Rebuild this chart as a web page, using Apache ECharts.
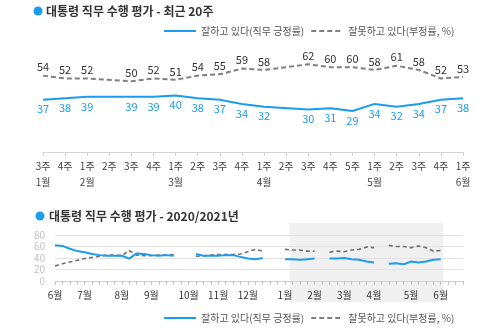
<!DOCTYPE html>
<html><head><meta charset="utf-8">
<script src="https://cdn.jsdelivr.net/npm/echarts@6/dist/echarts.min.js"></script>
<style>html,body{margin:0;padding:0;background:#fff}#c{width:500px;height:333px}</style>
</head><body><div id="c"></div>
<script>
// ---- recent 20 weeks ----
const recentWeeks = ['3주','4주','1주','2주','3주','4주','1주','2주','3주','4주','1주','2주','3주','4주','5주','1주','2주','3주','4주','1주'];
const recentMonths = ['1월','','2월','','','','3월','','','','4월','','','','','5월','','','','6월'];
const recentPositive = [37,38,39,null,39,39,40,38,37,34,32,null,30,31,29,34,32,34,37,38];
const recentNegative = [54,52,52,null,50,52,51,54,55,59,58,null,62,60,60,58,61,58,52,53];

// ---- 2020/2021 weekly history ----
const histSlots = 56;
const histMonthLabels = ['6월','7월','8월','9월','10월','11월','12월','1월','2월','3월','4월','5월','6월'];
const histMonthStart = [0,4,9,13,18,22,26,31,35,39,43,48,52];
const histPositive = [62,61,56,52,50,47,45,44,44,44,39,48,47,45,44,45,44,null,null,
  47,44,44,44,45,45,42,39,38,40,null,null,
  38,38,37,38,39,null,39,39,40,38,37,34,32,null,30,31,29,34,32,34,37,38];
const histNegative = [26,30,33,36,39,41,43,45,45,44,53,45,44,44,45,45,46,null,null,
  43,44,45,46,46,46,47,51,55,52,null,null,
  55,54,54,52,52,null,50,52,51,54,55,59,58,null,62,60,60,58,61,58,52,53];
const histYTicks = [0,20,40,60,80];
const shadeFrom = 31, shadeTo = 52;

const seriesNames = ['잘하고 있다(직무 긍정률)', '잘못하고 있다(부정률, %)'];
const BLUE = '#1a9cf0', GRAY = '#808080';
const FONT = '"Noto Sans CJK KR", "Noto Sans", sans-serif';

const recentCats = recentWeeks.map((w, i) => i + ':' + w);
const histCats = [];
for (let i = 0; i < histSlots; i++) {
  const k = histMonthStart.indexOf(i);
  histCats.push(i + ':' + (k >= 0 ? histMonthLabels[k] : ''));
}

const legendCommon = {left: 163, itemWidth: 32, itemHeight: 12, itemGap: 6, padding: 0,
  data: seriesNames, itemStyle: {opacity: 0},
  textStyle: {fontSize: 10, color: '#555', fontFamily: FONT}};

const chart = echarts.init(document.getElementById('c'), null, {renderer: 'canvas'});
const option = {
  animation: false,
  textStyle: {fontFamily: FONT},
  title: [
    {text: '대통령 직무 수행 평가 - 최근 20주', left: 46, top: 5, padding: 0,
     textStyle: {fontSize: 12, fontWeight: 'bold', color: '#333', fontFamily: FONT}},
    {text: '대통령 직무 수행 평가 - 2020/2021년', left: 49, top: 210, padding: 0,
     textStyle: {fontSize: 12, fontWeight: 'bold', color: '#333', fontFamily: FONT}}
  ],
  legend: [
    Object.assign({top: 26}, legendCommon),
    Object.assign({top: 313}, legendCommon)
  ],
  grid: [
    {left: 43, right: 37, top: 53, height: 99},
    {left: 55, right: 37, top: 235, height: 46}
  ],
  xAxis: [
    {type: 'category', gridIndex: 0, data: recentCats, boundaryGap: false,
     axisLine: {lineStyle: {color: '#d5d5d5'}},
     axisTick: {show: true, interval: 0, length: 4, lineStyle: {color: '#cfcfcf'}},
     axisLabel: {interval: 0, margin: 7,
       formatter: (v, i) => '{w|' + recentWeeks[i] + '}' + (recentMonths[i] ? '\n{m|' + recentMonths[i] + '}' : ''),
       rich: {w: {fontSize: 10, color: '#444', lineHeight: 14, fontFamily: FONT},
              m: {fontSize: 10, color: '#444', lineHeight: 18, fontFamily: FONT}}}},
    {type: 'category', gridIndex: 1, data: histCats, boundaryGap: false,
     axisLine: {lineStyle: {color: '#cfcfcf'}},
     axisTick: {show: true, interval: 0, length: 4, lineStyle: {color: '#c4c4c4'}},
     axisLabel: {interval: 0, margin: 9, fontSize: 10, color: '#333', fontFamily: FONT,
       formatter: v => v.split(':')[1]}}
  ],
  yAxis: [
    {type: 'value', gridIndex: 0, min: 0, max: 70, show: false},
    {type: 'value', gridIndex: 1, min: 0, max: 80, interval: 20,
     axisLine: {show: false}, axisTick: {show: false},
     axisLabel: {fontSize: 10, color: '#c4c4c4', margin: 10, fontFamily: FONT,
       formatter: v => histYTicks.indexOf(v) >= 0 ? String(v) : ''},
     splitLine: {lineStyle: {color: '#e2e2e2', width: 1}}}
  ],
  series: [
    {name: seriesNames[0], type: 'line', xAxisIndex: 0, yAxisIndex: 0, data: recentPositive,
     connectNulls: true, symbol: 'circle', symbolSize: 2, showSymbol: true,
     lineStyle: {color: BLUE, width: 2}, itemStyle: {color: 'rgba(0,0,0,0)'},
     label: {show: true, position: 'bottom', distance: 3, fontSize: 11, color: BLUE, opacity: 1, fontFamily: FONT}},
    {name: seriesNames[1], type: 'line', xAxisIndex: 0, yAxisIndex: 0, data: recentNegative,
     connectNulls: true, symbol: 'circle', symbolSize: 2, showSymbol: true,
     lineStyle: {color: GRAY, width: 2, type: [5, 3]}, itemStyle: {color: 'rgba(0,0,0,0)'},
     label: {show: true, position: 'top', distance: 2, fontSize: 11, color: '#333', opacity: 1, fontFamily: FONT}},
    {name: seriesNames[0], type: 'line', xAxisIndex: 1, yAxisIndex: 1, data: histPositive,
     connectNulls: false, symbol: 'none', lineStyle: {color: BLUE, width: 2}, itemStyle: {color: BLUE}, z: 4},
    {name: seriesNames[1], type: 'line', xAxisIndex: 1, yAxisIndex: 1, data: histNegative,
     connectNulls: false, symbol: 'none', lineStyle: {color: '#707070', width: 1.6, type: [4, 3]}, itemStyle: {color: GRAY}, z: 3}
  ],
  graphic: [
    {id: 'dot1', type: 'circle', shape: {cx: 38, cy: 11, r: 4.5}, style: {fill: BLUE}},
    {id: 'dot2', type: 'circle', shape: {cx: 40, cy: 216, r: 4.5}, style: {fill: BLUE}}
  ]
};
chart.setOption(option);

const xa = chart.convertToPixel({xAxisIndex: 1}, histCats[shadeFrom]);
const xb = chart.convertToPixel({xAxisIndex: 1}, histCats[shadeFrom + 1]);
const xe = chart.convertToPixel({xAxisIndex: 1}, histCats[shadeTo]);
const yTop = chart.convertToPixel({yAxisIndex: 1}, 80);
const x0 = (xa + xb) / 2 + 1;
chart.setOption({graphic: [
  {id: 'shade', type: 'rect', z: -10, silent: true,
   shape: {x: x0, y: yTop - 12, width: xe + 2.5 - x0, height: 302 - (yTop - 12)},
   style: {fill: '#f0f0f0'}}
]});
</script></body></html>
